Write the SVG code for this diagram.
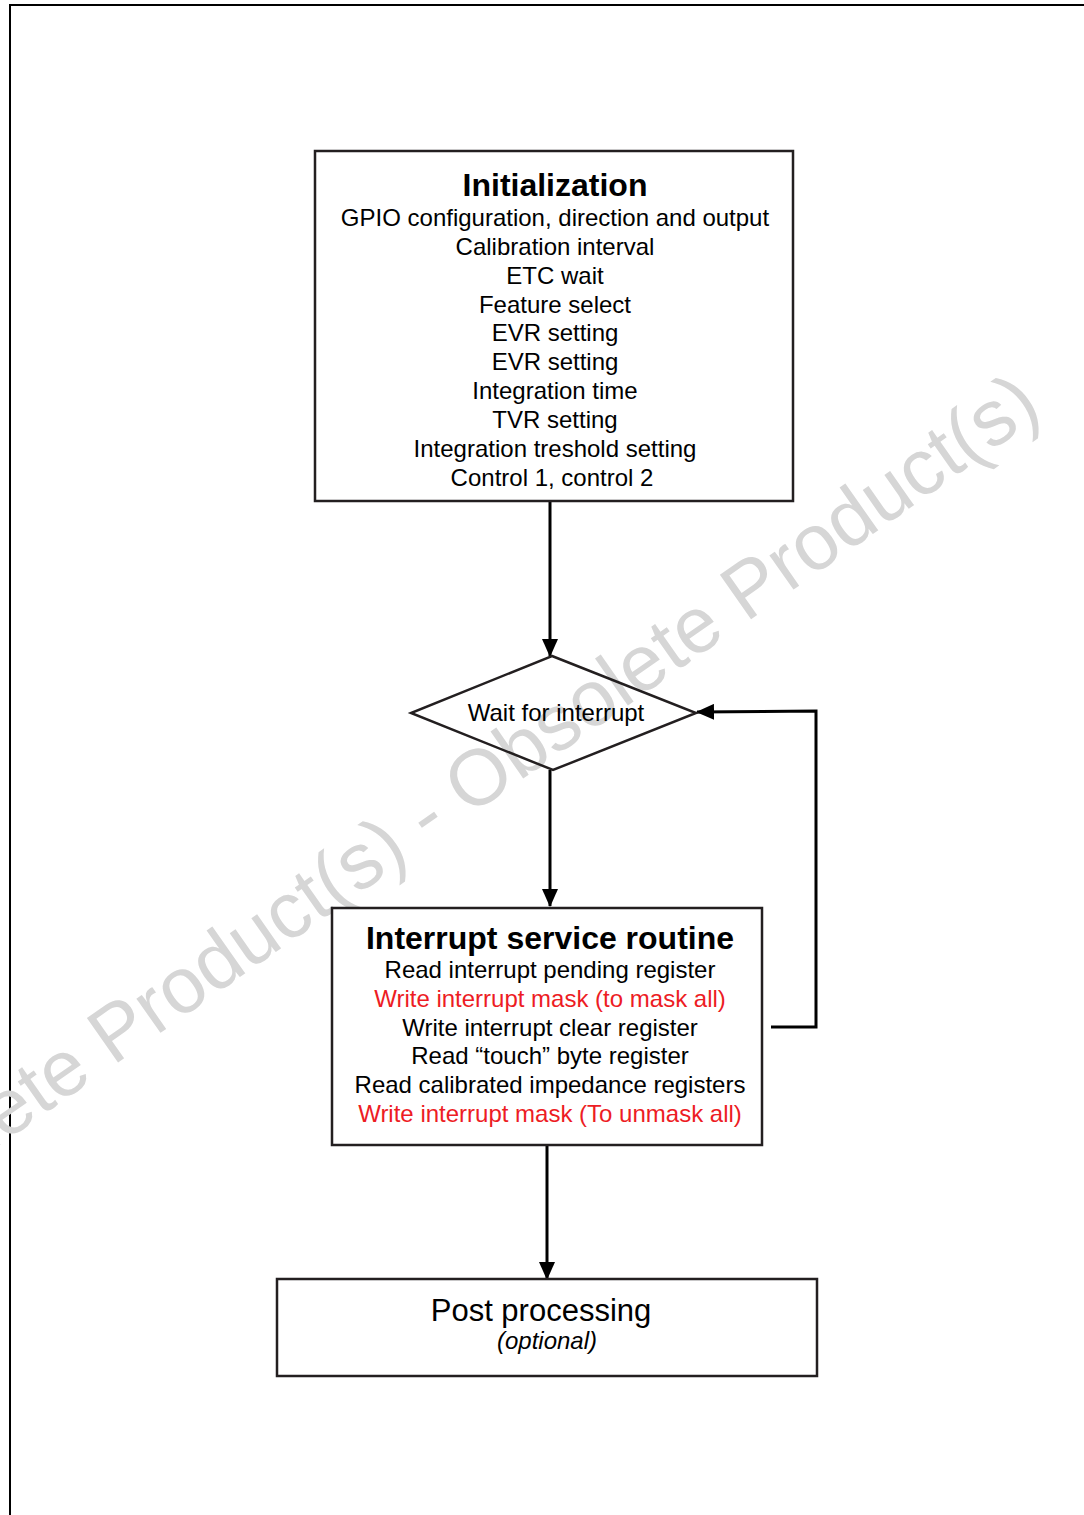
<svg xmlns="http://www.w3.org/2000/svg" width="1084" height="1515" viewBox="0 0 1084 1515">
<style>
.t{font-family:"Liberation Sans",Arial,Helvetica,sans-serif;font-size:24px;fill:#000;text-anchor:middle}
.b{font-weight:bold;font-size:32px}
.r{fill:#ed1c24}
.box{fill:#fff;stroke:#231f20;stroke-width:2.5}
.con{fill:none;stroke:#000;stroke-width:3}
.wm{font-family:"Liberation Sans",Arial,Helvetica,sans-serif;font-size:79px;fill:#d6d6d6;text-anchor:middle}
</style>
<defs>
<marker id="ah" markerUnits="userSpaceOnUse" markerWidth="18" markerHeight="16" refX="17" refY="8" orient="auto">
<path d="M0,0 L18,8 L0,16 Z" fill="#000"/>
</marker>
</defs>
<rect width="1084" height="1515" fill="#fff"/>
<g id="frame" fill="none" stroke="#000" stroke-width="2">
<path d="M10,1515 L10,5 L1084,5"/>
</g>
<g id="watermark">
<text class="wm" transform="translate(440,837) rotate(-35)">Obsolete Product(s) - Obsolete Product(s)</text>
</g>
<g id="connectors">
<path class="con" d="M550,501 L550,656" marker-end="url(#ah)"/>
<path class="con" d="M550,770 L550,906" marker-end="url(#ah)"/>
<path class="con" d="M771,1027 L816,1027 L816,711 L697,712" marker-end="url(#ah)"/>
<path class="con" d="M547,1145 L547,1279" marker-end="url(#ah)"/>
</g>
<g id="init">
<rect class="box" x="315" y="151" width="478" height="350"/>
<text class="t b" x="555" y="196">Initialization</text>
<text class="t" x="555" y="226">GPIO configuration, direction and output</text>
<text class="t" x="555" y="255">Calibration interval</text>
<text class="t" x="555" y="284">ETC wait</text>
<text class="t" x="555" y="313">Feature select</text>
<text class="t" x="555" y="341">EVR setting</text>
<text class="t" x="555" y="370">EVR setting</text>
<text class="t" x="555" y="399">Integration time</text>
<text class="t" x="555" y="428">TVR setting</text>
<text class="t" x="555" y="457">Integration treshold setting</text>
<text class="t" x="552" y="486">Control 1, control 2</text>
</g>
<g id="wait">
<path d="M552,656 L696,713 L553,770 L411,713 Z" fill="none" stroke="#231f20" stroke-width="2.5"/>
<text class="t" x="556" y="721">Wait for interrupt</text>
</g>
<g id="isr">
<rect class="box" x="332" y="908" width="430" height="237"/>
<text class="t b" x="550" y="949">Interrupt service routine</text>
<text class="t" x="550" y="978">Read interrupt pending register</text>
<text class="t r" x="550" y="1007">Write interrupt mask (to mask all)</text>
<text class="t" x="550" y="1036">Write interrupt clear register</text>
<text class="t" x="550" y="1064">Read “touch” byte register</text>
<text class="t" x="550" y="1093">Read calibrated impedance registers</text>
<text class="t r" x="550" y="1122">Write interrupt mask (To unmask all)</text>
</g>
<g id="post">
<rect class="box" x="277" y="1279" width="540" height="97"/>
<text class="t" x="541" y="1321" style="font-size:31px">Post processing</text>
<text class="t" x="547" y="1349" style="font-style:italic">(optional)</text>
</g>
</svg>
